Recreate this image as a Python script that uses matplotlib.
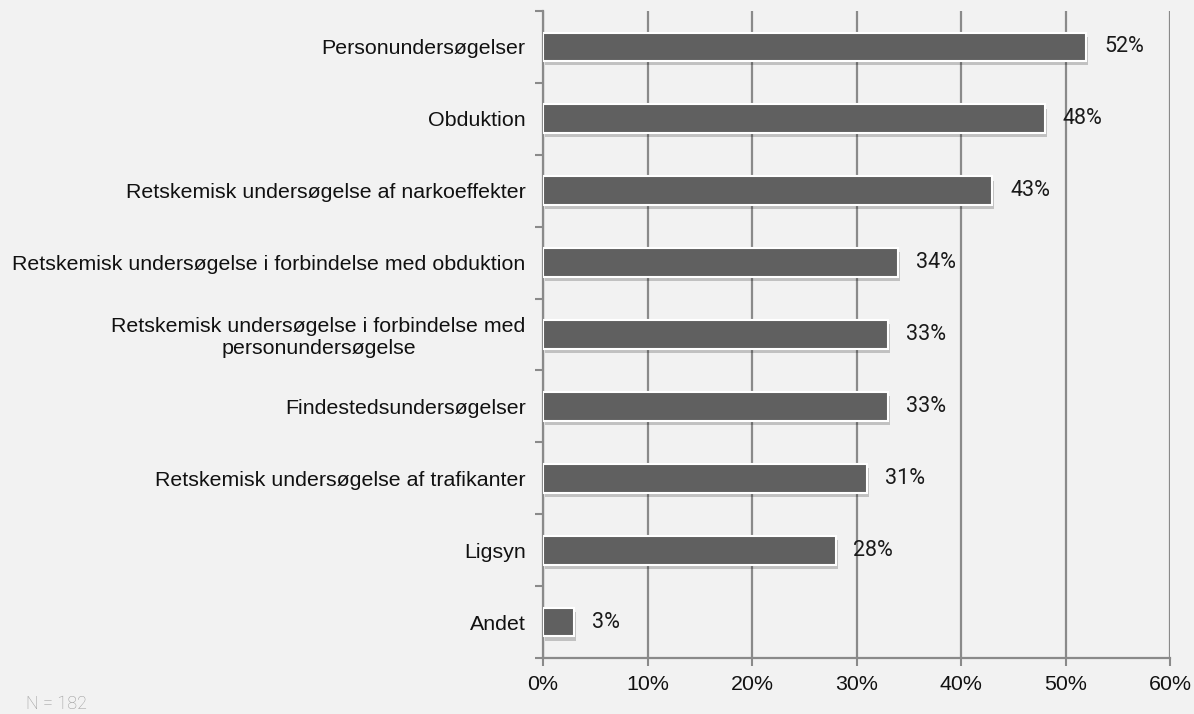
import matplotlib
matplotlib.use("Agg")
import matplotlib.pyplot as plt
import matplotlib.patheffects as pe
import numpy as np
from matplotlib.ticker import FuncFormatter, MultipleLocator

categories = [
    "Personundersøgelser",
    "Obduktion",
    "Retskemisk undersøgelse af narkoeffekter",
    "Retskemisk undersøgelse i forbindelse med obduktion",
    "Retskemisk undersøgelse i forbindelse med\npersonundersøgelse",
    "Findestedsundersøgelser",
    "Retskemisk undersøgelse af trafikanter",
    "Ligsyn",
    "Andet",
]
values = [52, 48, 43, 34, 33, 33, 31, 28, 3]
note = "N = 182"

bg = "#f2f2f2"
grid_c = "#8a8a8a"
fig = plt.figure(figsize=(11.94, 7.14), dpi=100, facecolor=bg)
ax = fig.add_axes([543 / 1194, 1 - 658 / 714, (1170 - 543) / 1194, (658 - 11) / 714])
ax.set_facecolor(bg)

y = np.arange(len(categories))
bars = ax.barh(y, values, height=0.40, color="#606060", edgecolor="white",
               linewidth=1.5, zorder=3)
for b in bars:
    b.set_path_effects([pe.SimplePatchShadow(offset=(1.5, -3), shadow_rgbFace="#000000", alpha=0.2),
                        pe.Normal()])

# value labels next to bar ends
for yi, v in zip(y, values):
    ax.text(v + 1.7, yi, f"{v}%", va="center", ha="left", fontsize=15.5,
            family="Roboto", color="#1a1a1a", zorder=4)

ax.set_ylim(len(categories) - 0.5, -0.5)
ax.set_xlim(0, 60)
ax.xaxis.set_major_locator(MultipleLocator(10))
ax.xaxis.set_major_formatter(FuncFormatter(lambda x, _: f"{x:.0f}%"))
ax.grid(axis="x", color=grid_c, linewidth=1.6, zorder=0)
ax.set_axisbelow(True)

ax.set_yticks(y)
ax.set_yticklabels(categories, fontsize=15.4, family="Liberation Sans", color="#111111")
ax.set_yticks(np.arange(len(categories) + 1) - 0.5, minor=True)
ax.tick_params(axis="y", which="major", length=0, pad=12.5)
ax.tick_params(axis="y", which="minor", length=6, width=1.5, color=grid_c)
ax.tick_params(axis="x", length=6, width=1.5, color=grid_c, labelsize=15.4, pad=6,
               labelcolor="#111111")
for lab in ax.get_xticklabels():
    lab.set_family("Liberation Sans")
for lab in ax.get_yticklabels():
    lab.set_multialignment("center")

for s in ["top", "right"]:
    ax.spines[s].set_visible(False)
for s in ["left", "bottom"]:
    ax.spines[s].set_color(grid_c)
    ax.spines[s].set_linewidth(1.6)

fig.text(26 / 1194, 1 - 709 / 714, note, fontsize=13, family="Roboto",
         color="#9a9a9a", ha="left", va="baseline", fontweight="light")

fig.savefig("out.png", dpi=100, facecolor=bg)
